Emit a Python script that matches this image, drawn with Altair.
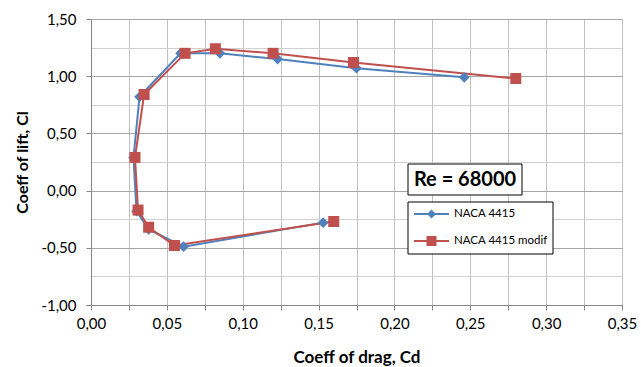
import altair as alt
import pandas as pd

series_names = ["NACA 4415", "NACA 4415 modif"]
series_colors = ["#4F81BD", "#C0504D"]
series_shapes = ["diamond", "square"]

cd_4415 = [0.153, 0.061, 0.038, 0.030, 0.028, 0.032, 0.059, 0.085, 0.123, 0.175, 0.246]
cl_4415 = [-0.28, -0.49, -0.34, -0.18, 0.29, 0.82, 1.20, 1.20, 1.15, 1.07, 0.99]
cd_mod = [0.160, 0.055, 0.038, 0.031, 0.029, 0.035, 0.062, 0.082, 0.120, 0.173, 0.280]
cl_mod = [-0.27, -0.48, -0.32, -0.17, 0.29, 0.84, 1.20, 1.24, 1.20, 1.12, 0.98]

x_ticks = [0.0, 0.025, 0.05, 0.075, 0.1, 0.125, 0.15, 0.175, 0.2, 0.225, 0.25, 0.275, 0.3, 0.325, 0.35]
y_ticks = [-1.0, -0.75, -0.5, -0.25, 0.0, 0.25, 0.5, 0.75, 1.0, 1.25, 1.5]
re_label = ["Re = 68000"]

rows = []
for name, cds, cls in [(series_names[0], cd_4415, cl_4415), (series_names[1], cd_mod, cl_mod)]:
    for i, (cd, cl) in enumerate(zip(cds, cls)):
        rows.append({"series": name, "cd": cd, "cl": cl, "order": i})
df = pd.DataFrame(rows)

FONT = "Lato"
W, H = 531, 286

fmt = "(datum.value < 0 ? '-' : '') + replace(format(abs(datum.value), '.2f'), '.', ',')"

x_enc = alt.X(
    "cd:Q",
    scale=alt.Scale(domain=[0, 0.35], nice=False, zero=False),
    axis=alt.Axis(
        values=x_ticks,
        labelExpr=f"abs(round(datum.value*1000) % 50) == 0 ? {fmt} : ''",
        title="Coeff of drag, Cd",
        titleX=W / 2,
        titleY=52,
        titleBaseline="middle",
        titleAlign="center",
        titleFontSize=17,
        gridColor="#c0c0c0",
        tickColor="#868686",
        domainColor="#868686",
        tickSize=5,
        labelPadding=6,
        labelFlush=False,
        labelOverlap=False,
    ),
)
y_enc = alt.Y(
    "cl:Q",
    scale=alt.Scale(domain=[-1, 1.5], nice=False, zero=False),
    axis=alt.Axis(
        values=y_ticks,
        labelExpr=f"abs(round(datum.value*100) % 50) == 0 ? {fmt} : ''",
        title="Coeff of lift, Cl",
        titleX=-69,
        titleY=H / 2,
        titleAngle=270,
        titleBaseline="middle",
        titleAlign="center",
        titleFontSize=16,
        gridColor={"condition": {"test": "abs(round(datum.value*100) % 50) == 0", "value": "#a6a6a6"}, "value": "#d0d0d0"},
        tickOpacity={"condition": {"test": "abs(round(datum.value*100) % 50) == 0", "value": 1}, "value": 0},
        tickColor="#868686",
        domainColor="#868686",
        tickSize=5,
        labelPadding=10,
        labelFlush=False,
        labelOverlap=False,
    ),
)

color_scale = alt.Scale(domain=series_names, range=series_colors)

base = alt.Chart(df)

lines = base.mark_line(strokeWidth=2).encode(
    x=x_enc, y=y_enc, order="order:O",
    color=alt.Color("series:N", scale=color_scale, legend=None),
)
points = base.mark_point(filled=True, opacity=1).encode(
    x=x_enc, y=y_enc,
    color=alt.Color("series:N", scale=color_scale, legend=None),
    shape=alt.Shape("series:N", scale=alt.Scale(domain=series_names, range=series_shapes), legend=None),
    size=alt.Size("series:N", scale=alt.Scale(domain=series_names, range=[115, 121]), legend=None),
)

# Re annotation box
re_df = pd.DataFrame({"t": re_label})
re_box = alt.Chart(re_df).mark_rect(fill="white", stroke="black", strokeWidth=1).encode(
    x=alt.value(317), x2=alt.value(431), y=alt.value(145), y2=alt.value(176)
)
re_text = alt.Chart(re_df).mark_text(font=FONT, fontSize=20, fontWeight="bold", color="black",
                                     align="center", baseline="middle").encode(
    x=alt.value(374), y=alt.value(161), text="t:N"
)

# legend box with line + marker samples
leg_df = pd.DataFrame({"series": series_names})
leg_box = alt.Chart(leg_df.head(1)).mark_rect(fill="white", stroke="black", strokeWidth=1).encode(
    x=alt.value(317), x2=alt.value(462), y=alt.value(183), y2=alt.value(235)
)
legend_layers = []
entry_y = [195, 222]
for name, col, shp, ey, sz in zip(series_names, series_colors, series_shapes, entry_y, [80, 100]):
    d = alt.Chart(leg_df[leg_df.series == name])
    legend_layers.append(d.mark_rule(color=col, strokeWidth=2).encode(
        x=alt.value(323), x2=alt.value(358), y=alt.value(ey)))
    legend_layers.append(d.mark_point(filled=True, color=col, shape=shp, size=sz, opacity=1).encode(
        x=alt.value(340.5), y=alt.value(ey)))
    legend_layers.append(d.mark_text(font=FONT, fontSize=11.5, color="black", align="left",
                                     baseline="middle").encode(
        x=alt.value(363), y=alt.value(ey), text="series:N"))

chart = alt.layer(lines, points, re_box, re_text, leg_box, *legend_layers).resolve_scale(
    shape="independent"
).properties(
    width=W, height=H,
    padding={"left": 91, "top": 19, "right": 641 - 91 - W, "bottom": 367 - 19 - H},
    autosize=alt.AutoSizeParams(type="none"),
    background="white",
).configure_view(stroke=None).configure_axis(
    labelFont=FONT, labelFontSize=15, labelColor="#000000",
    titleFont=FONT, titleFontWeight="bold", titleColor="#000000",
    gridWidth=1,
)

chart.save("out.html", embed_options={"renderer": "svg", "actions": False})
